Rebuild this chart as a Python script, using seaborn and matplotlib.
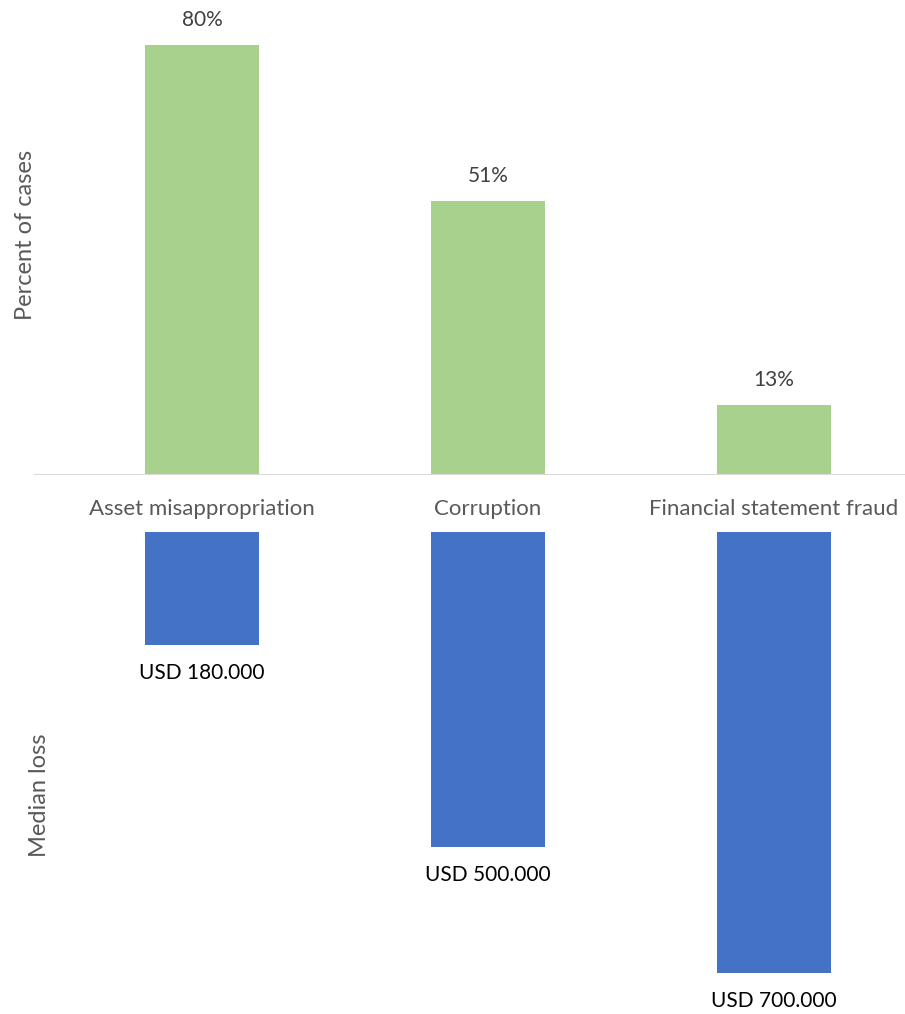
import matplotlib
matplotlib.use("Agg")
import matplotlib.pyplot as plt
import seaborn as sns
import pandas as pd

categories = ["Asset misappropriation", "Corruption", "Financial statement fraud"]
percent_cases = [80, 51, 13]
median_loss_k = [180, 500, 700]
pct_labels = ["80%", "51%", "13%"]
loss_labels = ["USD 180.000", "USD 500.000", "USD 700.000"]

sns.set_theme(style="white")
plt.rcParams["font.family"] = ["Lato", "DejaVu Sans"]

W, H = 905, 1014
fig = plt.figure(figsize=(W / 100, H / 100), dpi=100)

x0, x1 = 34, 905
ctr0, step = 202, 286
xl = ((x0 - ctr0) / step, (x1 - ctr0) / step)

def pos(top, bottom):
    return [x0 / W, 1 - bottom / H, (x1 - x0) / W, (bottom - top) / H]

ax1 = fig.add_axes(pos(0, 475))
ax2 = fig.add_axes(pos(532, 1014))

df1 = pd.DataFrame({"cat": categories, "val": percent_cases})
df2 = pd.DataFrame({"cat": categories, "val": median_loss_k})

sns.barplot(data=df1, x="cat", y="val", ax=ax1, color="#A9D18E", width=0.4,
            saturation=1, edgecolor="none")
sns.barplot(data=df2, x="cat", y="val", ax=ax2, color="#4472C4", width=0.4,
            saturation=1, edgecolor="none")

ax1.set_xlim(*xl)
ax2.set_xlim(*xl)
ax1.set_ylim(0, 475 / 5.375)
ax2.set_ylim((1014 - 532) / 0.63, 0)

for ax in (ax1, ax2):
    for s in ax.spines.values():
        s.set_visible(False)
    ax.set_xlabel("")
    ax.set_ylabel("")
    ax.set_yticks([])
    ax.set_xticks([])
    ax.patch.set_alpha(0)

ax1.axhline(0, color="#D9D9D9", lw=1.5)

for i, (v, t) in enumerate(zip(percent_cases, pct_labels)):
    ax1.annotate(t, xy=(i, v), xytext=(0, 18), textcoords="offset points",
                 ha="center", va="center", fontsize=15, color="#404040")
for i, (v, t) in enumerate(zip(median_loss_k, loss_labels)):
    ax2.annotate(t, xy=(i, v), xytext=(0, -20), textcoords="offset points",
                 ha="center", va="center", fontsize=15, color="#000000",
                 annotation_clip=False)

for i, c in enumerate(categories):
    fig.text((ctr0 + i * step) / W, 1 - 509 / H, c, ha="center", va="center",
             fontsize=16, color="#595959")

fig.text(25 / W, 1 - 235 / H, "Percent of cases", rotation=90, ha="center",
         va="center", fontsize=17, color="#595959")
fig.text(40 / W, 1 - 795 / H, "Median loss", rotation=90, ha="center",
         va="center", fontsize=17, color="#595959")

fig.savefig("out.png", dpi=100)
